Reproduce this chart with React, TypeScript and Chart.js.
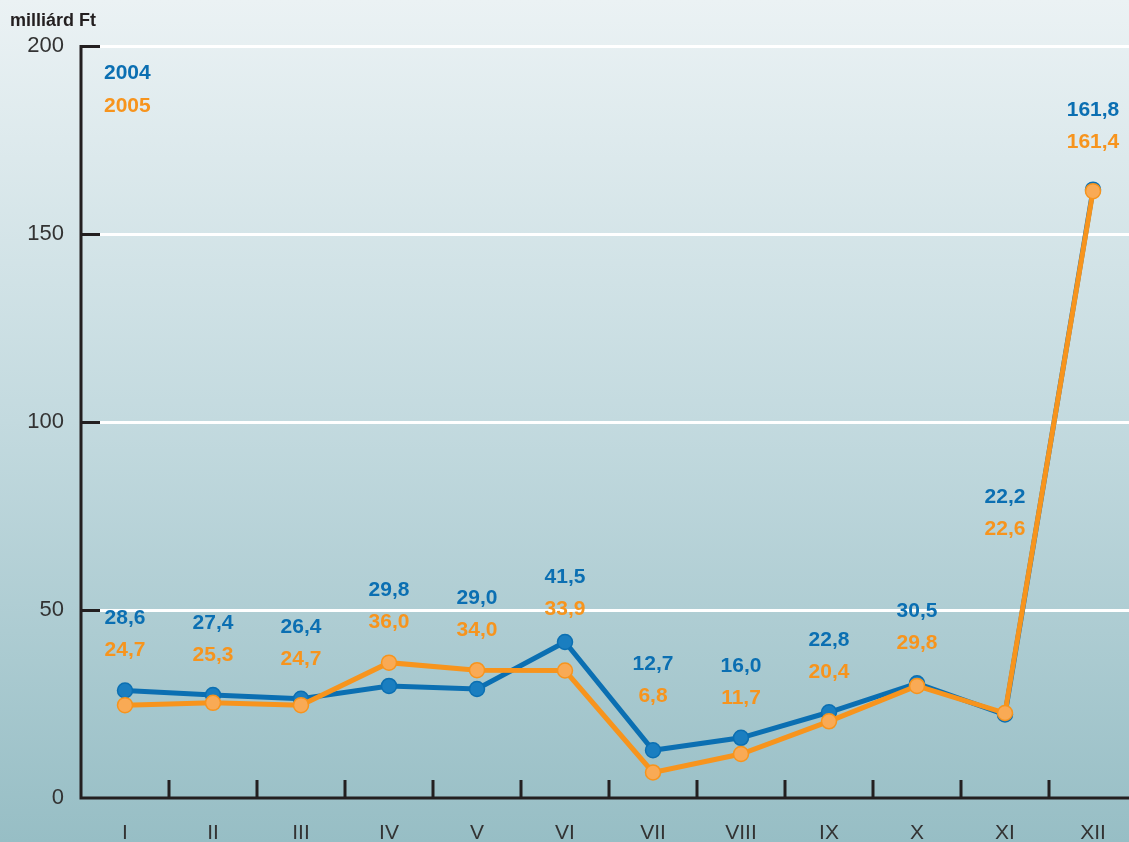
import React, { useEffect, useRef } from "react";
import { Chart, registerables } from "chart.js";

Chart.register(...registerables);

const months = ["I", "II", "III", "IV", "V", "VI", "VII", "VIII", "IX", "X", "XI", "XII"];
const values2004 = [28.6, 27.4, 26.4, 29.8, 29.0, 41.5, 12.7, 16.0, 22.8, 30.5, 22.2, 161.8];
const values2005 = [24.7, 25.3, 24.7, 36.0, 34.0, 33.9, 6.8, 11.7, 20.4, 29.8, 22.6, 161.4];
const seriesNames = ["2004", "2005"];
const yTickValues = [0, 50, 100, 150, 200];
const unitLabel = "milliárd Ft";

const BLUE = "#0b6fb2";
const BLUE_FILL = "#1a7ec0";
const ORANGE = "#f7941d";
const ORANGE_FILL = "#f9aa55";
const AXIS = "#231f20";
const FONT = '"Liberation Sans", Arial, sans-serif';

const fmt = (v: number) => v.toFixed(1).replace(".", ",");

const decorPlugin = {
  id: "decor",
  afterLayout(chart: any) {
    // let the plotting area run to the canvas' right edge
    const x = chart.scales.x;
    chart.chartArea.right = chart.width;
    chart.chartArea.width = chart.chartArea.right - chart.chartArea.left;
    x.right = chart.width;
    x.width = x.right - x.left;
    x.configure();
  },
  beforeDraw(chart: any) {
    const { ctx, width, height } = chart;
    const g = ctx.createLinearGradient(0, 0, 0, height);
    g.addColorStop(0, "#ebf2f4");
    g.addColorStop(0.5, "#c3dadf");
    g.addColorStop(1, "#97bec5");
    ctx.save();
    ctx.fillStyle = g;
    ctx.fillRect(0, 0, width, height);
    ctx.restore();
  },
  beforeDatasetsDraw(chart: any) {
    const { ctx, chartArea: a } = chart;
    const x = chart.scales.x;
    const y = chart.scales.y;
    const tickLen = 19;
    ctx.save();
    ctx.lineWidth = 3;
    ctx.lineCap = "butt";
    yTickValues.forEach((v) => {
      if (v === 0) return;
      const py = Math.round(y.getPixelForValue(v)) + 0.5;
      ctx.strokeStyle = "#ffffff";
      ctx.beginPath();
      ctx.moveTo(a.left + tickLen, py);
      ctx.lineTo(a.right, py);
      ctx.stroke();
      ctx.strokeStyle = AXIS;
      ctx.beginPath();
      ctx.moveTo(a.left, py);
      ctx.lineTo(a.left + tickLen, py);
      ctx.stroke();
    });
    ctx.strokeStyle = AXIS;
    for (let i = 1; i < months.length; i++) {
      const px = (x.getPixelForValue(i - 1) + x.getPixelForValue(i)) / 2;
      ctx.beginPath();
      ctx.moveTo(px, a.bottom - 18);
      ctx.lineTo(px, a.bottom);
      ctx.stroke();
    }
    const top = Math.round(y.getPixelForValue(yTickValues[yTickValues.length - 1])) + 0.5;
    ctx.beginPath();
    ctx.moveTo(a.left, top - 1.5);
    ctx.lineTo(a.left, a.bottom);
    ctx.lineTo(a.right, a.bottom);
    ctx.stroke();

    // unit title
    ctx.fillStyle = AXIS;
    ctx.font = `bold 18px ${FONT}`;
    ctx.textAlign = "left";
    ctx.textBaseline = "middle";
    ctx.fillText(unitLabel, 10, 21);

    // legend
    const colors = [BLUE, ORANGE];
    ctx.font = `bold 21px ${FONT}`;
    chart.data.datasets.forEach((ds: any, i: number) => {
      ctx.fillStyle = colors[i];
      ctx.fillText(ds.label, a.left + 23, 73 + i * 33);
    });
    ctx.restore();
  },
  afterDatasetsDraw(chart: any, _args: any, opts: any) {
    const { ctx } = chart;
    const x = chart.scales.x;
    const y = chart.scales.y;
    const lifts = opts.lifts || {};
    ctx.save();
    ctx.font = `bold 21px ${FONT}`;
    ctx.textAlign = "center";
    ctx.textBaseline = "middle";
    months.forEach((_m, i) => {
      const px = x.getPixelForValue(i);
      const hi = Math.min(y.getPixelForValue(values2004[i]), y.getPixelForValue(values2005[i]));
      const lift = lifts[i] !== undefined ? lifts[i] : opts.lift;
      const ty = hi - lift;
      ctx.fillStyle = BLUE;
      ctx.fillText(fmt(values2004[i]), px, ty);
      ctx.fillStyle = ORANGE;
      ctx.fillText(fmt(values2005[i]), px, ty + 32);
    });
    ctx.restore();
  },
};

export default function App() {
  const ref = useRef<HTMLCanvasElement | null>(null);

  useEffect(() => {
    if (!ref.current) return;
    const chart = new Chart(ref.current, {
      type: "line",
      data: {
        labels: months,
        datasets: [
          {
            label: seriesNames[0],
            data: values2004,
            borderColor: BLUE,
            backgroundColor: BLUE_FILL,
            pointBackgroundColor: BLUE_FILL,
            pointBorderColor: BLUE,
            borderWidth: 5,
            pointRadius: 7.5,
            pointBorderWidth: 1.5,
            tension: 0,
            order: 2,
            clip: false,
          },
          {
            label: seriesNames[1],
            data: values2005,
            borderColor: ORANGE,
            backgroundColor: ORANGE_FILL,
            pointBackgroundColor: ORANGE_FILL,
            pointBorderColor: ORANGE,
            borderWidth: 5,
            pointRadius: 7.5,
            pointBorderWidth: 1.5,
            tension: 0,
            order: 1,
            clip: false,
          },
        ],
      },
      options: {
        responsive: false,
        animation: false,
        devicePixelRatio: 1,
        layout: { padding: { top: 46, left: 0, right: 0, bottom: 0 } },
        plugins: {
          legend: { display: false },
          tooltip: { enabled: false },
          decor: { lift: 72, lifts: { 5: 65, 6: 86, 10: 216, 11: 79 } },
        } as any,
        scales: {
          x: {
            type: "category",
            offset: true,
            grid: { display: false, drawTicks: false },
            border: { display: false },
            ticks: {
              color: "#333333",
              font: { family: FONT, size: 21 },
              padding: 23,
              maxRotation: 0,
              autoSkip: false,
            },
            afterFit: (s: any) => {
              s.height = 44;
            },
          },
          y: {
            type: "linear",
            min: 0,
            max: 200,
            grid: { display: false, drawTicks: false },
            border: { display: false },
            ticks: {
              stepSize: 50,
              color: "#333333",
              font: { family: FONT, size: 22 },
              padding: 17,
            },
            afterFit: (s: any) => {
              s.width = 81;
            },
          },
        },
      },
      plugins: [decorPlugin],
    });
    return () => chart.destroy();
  }, []);

  return (
    <div
      style={{
        position: "absolute",
        left: 0,
        top: 0,
        width: 1129,
        height: 842,
        overflow: "hidden",
      }}
    >
      <canvas ref={ref} width={1137} height={842} style={{ display: "block", width: 1137, height: 842 }} />
    </div>
  );
}
